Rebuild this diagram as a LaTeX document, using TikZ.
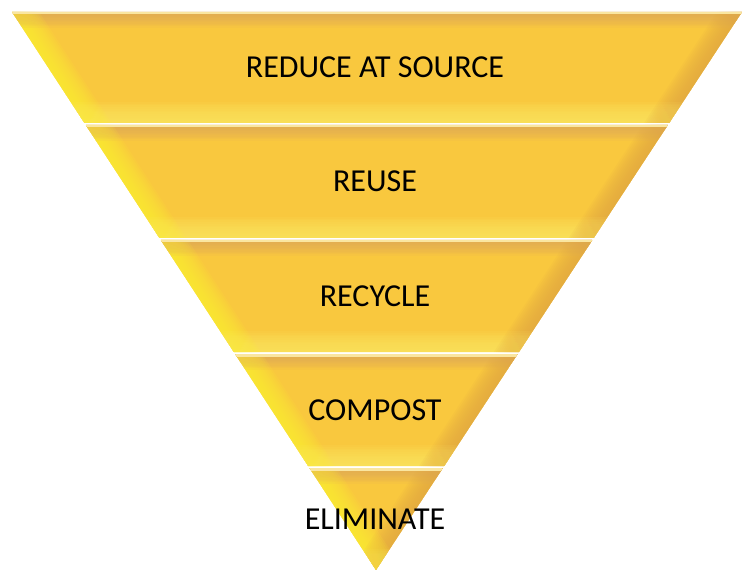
\documentclass[tikz,border=0pt]{standalone}
\usepackage{fontspec}
\setmainfont{Carlito}
\usepackage{xcolor}
\usetikzlibrary{positioning,calc}

\definecolor{bandfill}{RGB}{249,200,62}
\definecolor{bevellight}{RGB}{255,242,50}
\definecolor{beveltan}{RGB}{222,168,92}
\definecolor{bevelpale}{RGB}{250,230,160}
\definecolor{bevelbottom}{RGB}{255,234,100}
\definecolor{beveldark}{RGB}{226,168,66}

\tikzset{
  bandlabel/.style={font=\fontsize{32}{32}\selectfont, text=black, inner sep=0pt},
  glow/.style={line width=#1, opacity=0.11},
}

\begin{document}
\begin{tikzpicture}[x=1pt,y=-1pt]
    \useasboundingbox (0,0) rectangle (747,572);

    % Bands of the inverted pyramid
    \foreach \t/\b/\lab/\nm in {12/123/{REDUCE AT SOURCE}/reduce, 125/238/REUSE/reuse, 240/352/RECYCLE/recycle, 354/466/COMPOST/compost, 468/570/ELIMINATE/eliminate}{
        % corners, with the side edges run past the band
        \pgfmathsetmacro{\xlt}{12+0.6523*(\t-12)}
        \pgfmathsetmacro{\xrt}{742-0.6559*(\t-12)}
        \pgfmathsetmacro{\xlb}{12+0.6523*(\b-12)}
        \pgfmathsetmacro{\xrb}{742-0.6559*(\b-12)}
        \pgfmathsetmacro{\ya}{\t-30}
        \pgfmathsetmacro{\yz}{\b+30}
        \pgfmathsetmacro{\xla}{12+0.6523*(\ya-12)}
        \pgfmathsetmacro{\xlz}{12+0.6523*(\yz-12)}
        \pgfmathsetmacro{\xra}{742-0.6559*(\ya-12)}
        \pgfmathsetmacro{\xrz}{742-0.6559*(\yz-12)}
        \begin{scope}
            \clip (\xlt,\t) -- (\xrt,\t) -- (\xrb,\b) -- (\xlb,\b) -- cycle;
            \fill [bandfill] (\xlt,\t) rectangle (\xrt,\b);
            % soft bevels
            \foreach \k in {1,...,12}{
                \draw [glow=\k*3.5pt, bevelbottom] (\xlt,\b) -- (\xrt,\b);
                \draw [glow=\k*2.6pt, beveltan] (\xlt,\t) -- (\xrt,\t);
                \draw [glow=\k*3.5pt, beveldark] (\xra,\ya) -- (\xrz,\yz);
                \draw [glow=\k*3.8pt, bevellight] (\xla,\ya) -- (\xlz,\yz);
            }
            \draw [bevelpale, line width=5pt] (\xlt,\t) -- (\xrt,\t);
        \end{scope}
        % label
        \node [bandlabel] (\nm) at (375,{(\t+\b)/2}) {\lab};
    }
\end{tikzpicture}
\end{document}
